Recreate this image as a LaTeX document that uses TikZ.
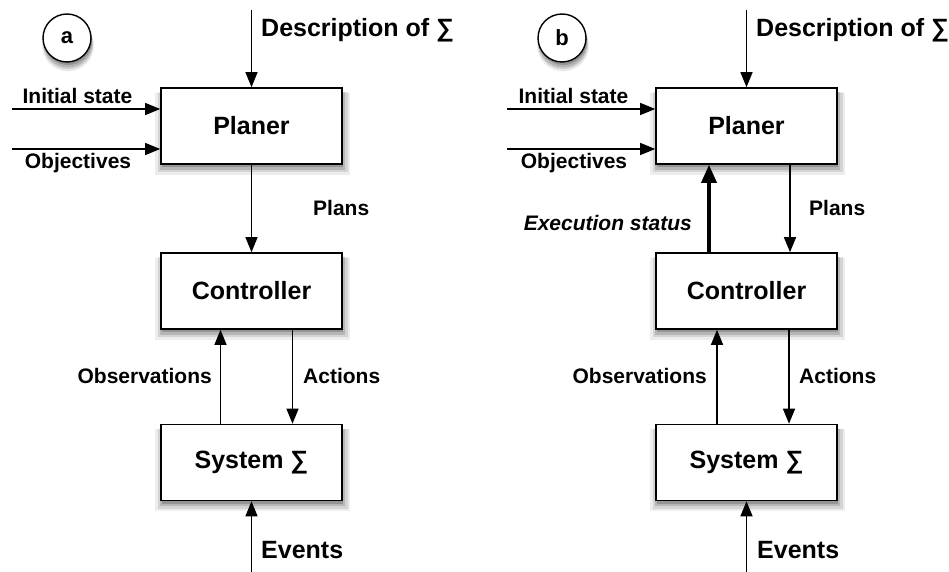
\documentclass[tikz,border=0pt]{standalone}
\usepackage{fontspec}
\setmainfont{Liberation Sans}
\usetikzlibrary{arrows.meta,shadows}
\begin{document}
\begin{tikzpicture}[x=1pt,y=-1pt,
  softshadow/.style={
    drop shadow={shadow xshift=1pt, shadow yshift=-7pt, shadow scale=1.08, opacity=0.07, fill=black},
    drop shadow={shadow xshift=1pt, shadow yshift=-6pt, shadow scale=1.05, opacity=0.10, fill=black},
    drop shadow={shadow xshift=1pt, shadow yshift=-5pt, shadow scale=1.02, opacity=0.14, fill=black},
    drop shadow={shadow xshift=1pt, shadow yshift=-3pt, shadow scale=1.00, opacity=0.18, fill=black}},
  box/.style={draw, line width=1.6pt, fill=white, minimum width=181pt, minimum height=76pt,
    inner sep=0pt, font=\fontsize{25}{30}\selectfont\bfseries, softshadow},
  tag/.style={draw, circle, line width=1.4pt, fill=white, minimum size=48pt, inner sep=0pt,
    font=\fontsize{22}{26}\selectfont\bfseries, softshadow},
  big/.style={inner sep=0pt, font=\fontsize{25}{30}\selectfont\bfseries},
  small/.style={inner sep=0pt, font=\fontsize{21}{25}\selectfont\bfseries},
  flow/.style={line width=1.3pt, -{Triangle[length=15pt,width=12pt]}},
  heavy/.style={line width=3.6pt, -{Triangle[length=18pt,width=15pt]}}
]
\useasboundingbox (0,0) rectangle (949,572);
\fill[white] (0,0) rectangle (949,572);

% ---------------- left diagram (a) ----------------
\node[tag] (ca) at (67,38) {a};
\node[box] (P1) at (251.5,126) {Planer};
\node[box] (C1) at (251.5,291) {Controller};
\node[box] (S1) at (251.5,462.5) {System ∑};

\coordinate (d1) at (251.5,10);
\coordinate (i1) at (12,109);
\coordinate (o1) at (12,149);
\coordinate (e1) at (251.5,572);

\draw[flow] (d1) -- (P1.north);
\draw[flow] (i1) -- (P1.west |- i1);
\draw[flow] (o1) -- (P1.west |- o1);
\draw[flow] (P1.south) -- (C1.north);
\draw[flow] ([xshift=-31pt]S1.north) -- ([xshift=-31pt]C1.south);
\draw[flow] ([xshift=41pt]C1.south) -- ([xshift=41pt]S1.north);
\draw[flow] (e1) -- (S1.south);

\node[big, anchor=base west] (ld1) at (261,37) {Description of ∑};
\node[small, anchor=base] (li1) at (77.5,104) {Initial state};
\node[small, anchor=base] (lo1) at (78,168) {Objectives};
\node[small, anchor=base west] (lp1) at (313,215) {Plans};
\node[small, anchor=base east] (lb1) at (212,383) {Observations};
\node[small, anchor=base west] (la1) at (303,383) {Actions};
\node[big, anchor=base west] (le1) at (261,558) {Events};

% ---------------- right diagram (b) ----------------
\node[tag] (cb) at (562,38) {b};
\node[box] (P2) at (746.5,126) {Planer};
\node[box] (C2) at (746.5,291) {Controller};
\node[box] (S2) at (746.5,462.5) {System ∑};

\coordinate (d2) at (746.5,10);
\coordinate (i2) at (507,109);
\coordinate (o2) at (507,149);
\coordinate (e2) at (746.5,572);

\draw[flow] (d2) -- (P2.north);
\draw[flow] (i2) -- (P2.west |- i2);
\draw[flow] (o2) -- (P2.west |- o2);
\draw[flow] ([xshift=43.5pt]P2.south) -- ([xshift=43.5pt]C2.north);
\draw[heavy] ([xshift=-37.5pt]C2.north) -- ([xshift=-37.5pt]P2.south);
\draw[flow] ([xshift=-29.5pt]S2.north) -- ([xshift=-29.5pt]C2.south);
\draw[flow] ([xshift=42.5pt]C2.south) -- ([xshift=42.5pt]S2.north);
\draw[flow] (e2) -- (S2.south);

\node[big, anchor=base west] (ld2) at (756,37) {Description of ∑};
\node[small, anchor=base] (li2) at (573.5,104) {Initial state};
\node[small, anchor=base] (lo2) at (574,168) {Objectives};
\node[small, anchor=base west] (lp2) at (809,215) {Plans};
\node[small, anchor=base east] (lx2) at (692,230) {\itshape Execution status};
\node[small, anchor=base east] (lb2) at (707,383) {Observations};
\node[small, anchor=base west] (la2) at (799,383) {Actions};
\node[big, anchor=base west] (le2) at (757,558) {Events};
\end{tikzpicture}
\end{document}
